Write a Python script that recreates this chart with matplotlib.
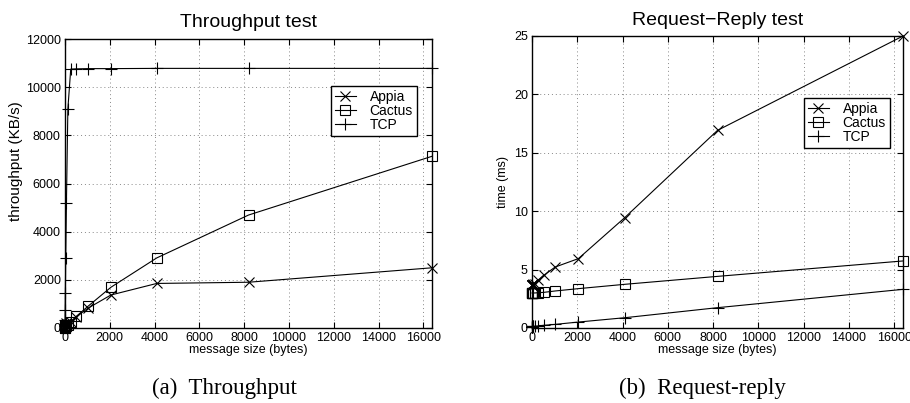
import numpy as np
import matplotlib.pyplot as plt

# message sizes (bytes)
sizes = [1, 2, 4, 8, 16, 32, 64, 128, 256, 512, 1024, 2048, 4096, 8192, 16384]

# throughput (KB/s)
thr_appia = [8, 16, 30, 60, 110, 200, 120, 160, 250, 470, 820, 1370, 1850, 1900, 2500]
thr_cactus = [8, 16, 30, 60, 110, 90, 120, 140, 260, 490, 900, 1690, 2910, 4690, 7130]
thr_tcp = [80, 170, 340, 760, 1450, 2900, 5200, 9100, 10750, 10760, 10770, 10770, 10780, 10780, 10780]

# request-reply time (ms)
rr_appia = [3.7, 3.7, 3.7, 3.7, 3.7, 3.7, 3.75, 3.8, 4.08, 4.5, 5.22, 5.94, 9.45, 16.92, 25.0]
rr_cactus = [3.0, 3.0, 3.0, 3.0, 3.0, 3.0, 3.0, 3.0, 3.02, 3.05, 3.17, 3.37, 3.74, 4.42, 5.74]
rr_tcp = [0.12, 0.12, 0.12, 0.12, 0.13, 0.13, 0.14, 0.15, 0.17, 0.23, 0.31, 0.51, 0.88, 1.74, 3.31]

labels = ['Appia', 'Cactus', 'TCP']
markers = ['x', 's', '+']
msizes = [6.5, 7.5, 8.5]

plt.rcParams['font.family'] = ['Liberation Sans', 'DejaVu Sans']

fig = plt.figure(figsize=(9.1, 4.03), dpi=100)
W, H = 910, 403
ax1 = fig.add_axes([65 / W, 1 - 328 / H, (432 - 65) / W, (328 - 39) / H])
ax2 = fig.add_axes([532 / W, 1 - 328 / H, (903 - 532) / W, (328 - 36) / H])


def draw(ax, series, ylim, yticks, ylabel, ylab_size, ylab_pos, title, tpad, legend_anchor):
    for ys, lab, m, ms in zip(series, labels, markers, msizes):
        ax.plot(sizes, ys, color='black', lw=0.8, marker=m, ms=ms,
                mfc='none', mew=0.8, label=lab, clip_on=False)
    ax.set_xlim(0, 16384)
    ax.set_ylim(*ylim)
    ax.set_xticks(np.arange(0, 16001, 2000))
    ax.set_yticks(yticks)
    ax.grid(True, linestyle=(0, (1, 3)), color='#888888', lw=0.7)
    ax.tick_params(direction='in', length=4, labelsize=9, top=True, right=True, pad=3)
    for s in ax.spines.values():
        s.set_linewidth(1.0)
    ax.set_xlabel('message size (bytes)', fontsize=9, labelpad=0)
    ax.set_ylabel(ylabel, fontsize=ylab_size)
    ax.yaxis.label.set_verticalalignment('center')
    ax.yaxis.set_label_coords(*ylab_pos)
    ax.set_title(title, fontsize=14, pad=tpad)
    leg = ax.legend(loc='upper right', bbox_to_anchor=legend_anchor,
                    fontsize=10, frameon=True, fancybox=False, framealpha=1,
                    edgecolor='black', borderpad=0.3, labelspacing=0.0,
                    handlelength=1.5, handletextpad=1.0, borderaxespad=0)
    leg.get_frame().set_linewidth(1.0)


draw(ax1, [thr_appia, thr_cactus, thr_tcp], (0, 12000), np.arange(0, 12001, 2000),
     'throughput (KB/s)', 11, (-0.1335, 0.578), 'Throughput test', 8.5,
     ((417 - 65) / (432 - 65), (328 - 86) / (328 - 39)))
draw(ax2, [rr_appia, rr_cactus, rr_tcp], (0, 25), np.arange(0, 26, 5),
     'time (ms)', 9, (-0.077, 0.501), 'Request\u2212Reply test', 8.2,
     ((890 - 532) / (903 - 532), (328 - 98) / (328 - 36)))

fig.text(224 / W, 1 - 388 / H, '(a)  Throughput', family='Liberation Serif',
         fontsize=16.5, ha='center', va='center')
fig.text(702 / W, 1 - 388 / H, '(b)  Request-reply', family='Liberation Serif',
         fontsize=16.5, ha='center', va='center')

fig.savefig('out.png', dpi=100)
